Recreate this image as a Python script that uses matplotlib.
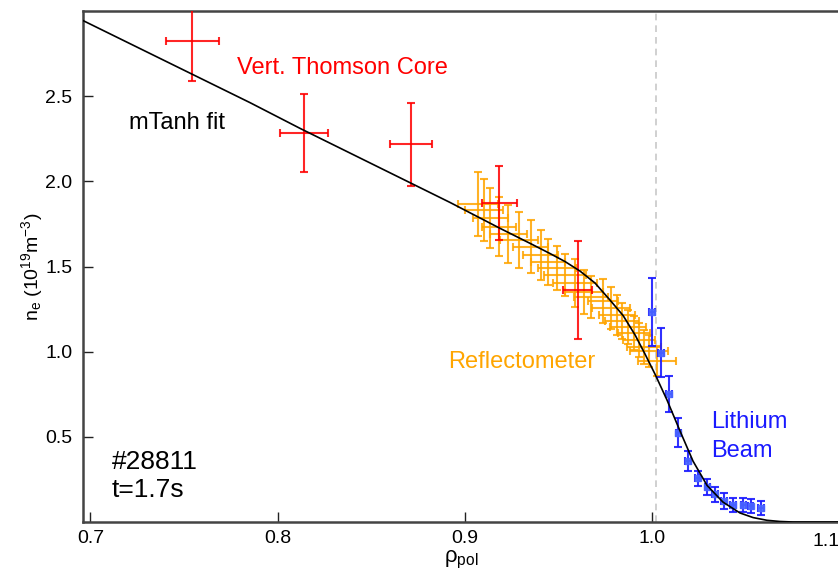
import numpy as np
import matplotlib
matplotlib.use('Agg')
import matplotlib.pyplot as plt
import matplotlib.transforms as mtransforms

plt.rcParams['font.family'] = ['Liberation Sans', 'DejaVu Sans']
plt.rcParams['mathtext.fontset'] = 'custom'
plt.rcParams['mathtext.rm'] = 'Liberation Sans'
plt.rcParams['mathtext.it'] = 'Liberation Sans:italic'

# mTanh fit curve
fit_rho = [0.6962, 0.7852, 0.8119, 0.8920, 0.9187, 0.9347, 0.9454, 0.9534, 0.9614,
           0.9694, 0.9774, 0.9844, 0.9908, 0.9961, 1.0014, 1.0078, 1.0148, 1.0217,
           1.0292, 1.0377, 1.0468, 1.0538, 1.0612, 1.0682, 1.0751, 1.1002]
fit_ne = [2.943, 2.462, 2.311, 1.876, 1.724, 1.636, 1.576, 1.529, 1.473,
          1.403, 1.303, 1.212, 1.098, 0.986, 0.869, 0.717, 0.534, 0.358,
          0.215, 0.117, 0.053, 0.026, 0.010, 0.003, 0.0, 0.0]

# vertical Thomson scattering, core
ts_rho = [0.7544, 0.8140, 0.8712, 0.9183, 0.9602]
ts_ne = [2.826, 2.282, 2.217, 1.871, 1.362]
ts_xerr = [0.0142, 0.0129, 0.0113, 0.0095, 0.0077]
ts_yerr = [0.235, 0.228, 0.242, 0.217, 0.289]

# reflectometer
rf_rho = [0.9069, 0.9101, 0.9136, 0.9182, 0.9232, 0.9288, 0.9350, 0.9403, 0.9443,
          0.9491, 0.9534, 0.9587, 0.9635, 0.9673, 0.9737, 0.9780, 0.9812, 0.9838,
          0.9870, 0.9902, 0.9929, 0.9956, 0.9982, 1.0025]
rf_ne = [1.867, 1.832, 1.783, 1.734, 1.689, 1.656, 1.616, 1.568, 1.528,
         1.491, 1.450, 1.401, 1.352, 1.321, 1.297, 1.255, 1.215, 1.182,
         1.147, 1.108, 1.069, 1.029, 1.004, 0.947]
rf_xerr = [0.0107, 0.0101, 0.0093, 0.0091, 0.0099, 0.0101, 0.0093, 0.0093, 0.0091,
           0.0101, 0.0112, 0.0115, 0.0101, 0.0091, 0.0080, 0.0101, 0.0096, 0.0091,
           0.0096, 0.0085, 0.0085, 0.0091, 0.0101, 0.0101]
rf_yerr = [0.188, 0.182, 0.176, 0.173, 0.170, 0.164, 0.156, 0.147, 0.135,
           0.129, 0.123, 0.141, 0.129, 0.123, 0.129, 0.123, 0.117, 0.106,
           0.100, 0.100, 0.100, 0.100, 0.094, 0.088]

# lithium beam
li_rho = [0.9997, 1.0046, 1.0089, 1.0139, 1.0189, 1.0242, 1.0294, 1.0335, 1.0384,
          1.0432, 1.0486, 1.0525, 1.0579]
li_ne = [1.235, 0.994, 0.750, 0.524, 0.358, 0.256, 0.204, 0.164, 0.125,
         0.100, 0.100, 0.094, 0.080]
li_yerr = [0.200, 0.144, 0.107, 0.085, 0.059, 0.044, 0.047, 0.044, 0.047,
           0.041, 0.041, 0.041, 0.041]
li_xerr = 0.0015

fig = plt.figure(figsize=(8.38, 5.72), dpi=100)
ax = fig.add_axes([83.3/838, 50/572, (840-83.3)/838, 511/572])

ax.axvline(1.002, color='#c8c8c8', lw=1.2, ls=(0, (4, 3)), zorder=1)

ax.errorbar(rf_rho, rf_ne, xerr=rf_xerr, yerr=rf_yerr, fmt='none',
            ecolor='#ffa500', elinewidth=1.5, capsize=3, capthick=1.5, alpha=0.85, zorder=2)
ax.errorbar(ts_rho, ts_ne, xerr=ts_xerr, yerr=ts_yerr, fmt='none',
            ecolor='#ff0000', elinewidth=1.5, capsize=3, capthick=1.5, alpha=0.85, zorder=3)
ax.errorbar(li_rho, li_ne, xerr=li_xerr, yerr=li_yerr, fmt='s', ms=4,
            color='#4a66ff', mec='#4a66ff', ecolor='#1a1aff', elinewidth=1.5,
            capsize=3, capthick=1.5, alpha=0.9, zorder=3)
ax.plot(fit_rho, fit_ne, color='black', lw=1.2, zorder=4)

ax.set_xlim(0.6962, 1.1002)
ax.set_ylim(0, 3.0)
ax.set_xticks([0.7, 0.8, 0.9, 1.0, 1.1])
ax.set_xticklabels(['0.7', '0.8', '0.9', '1.0', ''])
ax.set_yticks([0.5, 1.0, 1.5, 2.0, 2.5])
ax.tick_params(direction='in', length=7, width=1, labelsize=14, color='#222222')
ax.tick_params(axis='x', pad=6)
ax.tick_params(axis='y', pad=8)

# last tick label sits at the right edge of the picture
trans = mtransforms.blended_transform_factory(ax.transData, ax.transAxes)
ax.text(1.0998, -0.022, '1.1', transform=trans, fontsize=14, ha='right', va='top')

for side in ['left', 'bottom', 'top']:
    ax.spines[side].set_color('#444444')
    ax.spines[side].set_linewidth(1.8)
ax.spines['right'].set_visible(False)

ax.set_xlabel(r'ρ$_{\rm pol}$', fontsize=16, labelpad=1)
ax.set_ylabel(r'n$_{\rm e}$ (10$^{19}$m$^{-3}$)', fontsize=14, labelpad=0)

ax.text(0.7783, 2.665, 'Vert. Thomson Core', color='#ff0000', fontsize=17, ha='left', va='center')
ax.text(0.7206, 2.343, 'mTanh fit', color='black', fontsize=17, ha='left', va='center')
ax.text(0.8909, 0.939, 'Reflectometer', color='#ffa500', fontsize=17, ha='left', va='center')
ax.text(1.0313, 0.587, 'Lithium', color='#1a1aff', fontsize=17, ha='left', va='center')
ax.text(1.0313, 0.417, 'Beam', color='#1a1aff', fontsize=17, ha='left', va='center')
ax.text(0.7115, 0.352, '#28811', color='black', fontsize=19, ha='left', va='center')
ax.text(0.7115, 0.188, 't=1.7s', color='black', fontsize=19, ha='left', va='center')

plt.savefig('out.png', dpi=100)
